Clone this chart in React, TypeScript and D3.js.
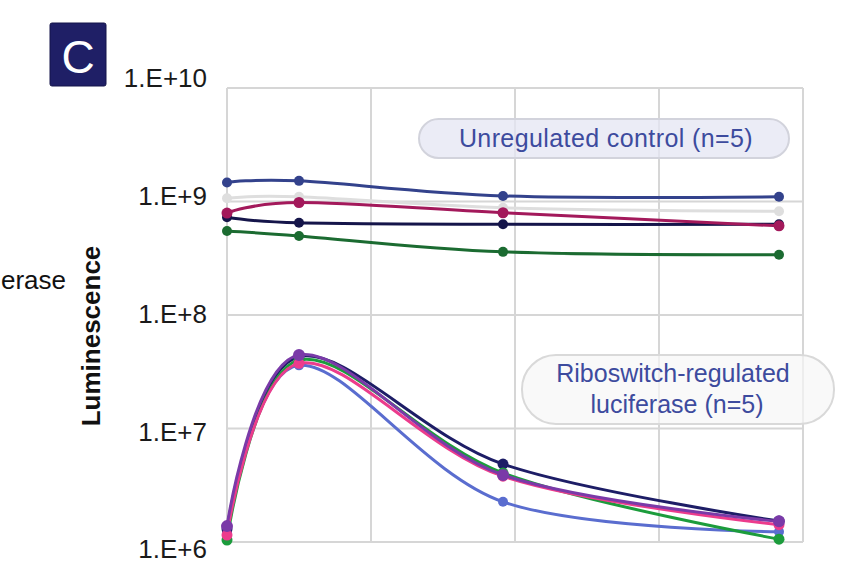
import * as d3 from "d3";

// hours after induction (x positions of the four measurements)
const HOURS = [0, 3, 11.5, 23];

const TICK_VALUES = [1e6, 1e7, 1e8, 1e9, 1e10];
const TICK_LABELS = ["1.E+6", "1.E+7", "1.E+8", "1.E+9", "1.E+10"];
const X_GRID = [0, 6, 12, 18, 24];

// unregulated control constructs
const CTRL_GRAY = [1.07e9, 1.1e9, 8.8e8, 8.2e8];
const CTRL_GREEN = [5.5e8, 4.97e8, 3.6e8, 3.4e8];
const CTRL_NAVY = [7.26e8, 6.5e8, 6.3e8, 6.3e8];
const CTRL_CRIMSON = [7.9e8, 9.8e8, 7.96e8, 6.1e8];
const CTRL_BLUE = [1.47e9, 1.52e9, 1.12e9, 1.1e9];

// riboswitch-regulated luciferase
const RIBO_BLUE = [1.22e6, 3.6e7, 2.26e6, 1.23e6];
const RIBO_NAVY = [1.3e6, 4.3e7, 4.86e6, 1.53e6];
const RIBO_GREEN = [1.04e6, 4.0e7, 4.05e6, 1.06e6];
const RIBO_PINK = [1.15e6, 3.75e7, 3.8e6, 1.42e6];
const RIBO_PURPLE = [1.38e6, 4.45e7, 3.9e6, 1.52e6];

const SERIES = [
  { values: CTRL_GRAY, color: "#dedede", r: 5 },
  { values: CTRL_GREEN, color: "#1b6b31", r: 5 },
  { values: CTRL_NAVY, color: "#15154a", r: 5 },
  { values: CTRL_CRIMSON, color: "#a3195b", r: 5.5 },
  { values: CTRL_BLUE, color: "#33428c", r: 5 },
  { values: RIBO_BLUE, color: "#5a6dcf", r: 5 },
  { values: RIBO_NAVY, color: "#1d1d66", r: 5.5 },
  { values: RIBO_GREEN, color: "#1c9c3c", r: 5.5 },
  { values: RIBO_PINK, color: "#ec3c8c", r: 5.5 },
  { values: RIBO_PURPLE, color: "#7a3aa8", r: 6 },
];

const WIDTH = 857;
const HEIGHT = 568;
const plot = { left: 227, right: 803, top: 88, bottom: 542 };
const FONT = "'Liberation Sans', Arial, sans-serif";

export default function App() {
  const x = d3.scaleLinear().domain([0, 24]).range([plot.left, plot.right]);
  const y = d3.scaleLog().domain([1e6, 1e10]).range([plot.bottom, plot.top]);
  // tick labels sit on a slightly taller ladder than the grid
  const yLabel = d3.scaleLog().domain([1e6, 1e10]).range([549, 78]);

  const line = d3
    .line<number>()
    .x((_, i) => x(HOURS[i]))
    .y((d) => y(d))
    .curve(d3.curveCardinal.tension(0));

  return (
    <svg
      width={WIDTH}
      height={HEIGHT}
      style={{ position: "fixed", left: 0, top: 0, background: "#fff" }}
      fontFamily={FONT}
    >
      {/* tail of a label from the neighbouring panel */}
      <text x={1} y={289} fontSize={26} fill="#111">
        erase
      </text>

      {/* panel letter */}
      <rect x={50} y={23} width={56} height={63} rx={2} fill="#1f1f66" stroke="#15154a" />
      <text x={78} y={73} textAnchor="middle" fontSize={46} fill="#fff">
        C
      </text>

      {/* grid */}
      <g stroke="#d6d6d6" strokeWidth={2}>
        {TICK_VALUES.map((v) => (
          <line key={v} x1={plot.left} x2={plot.right} y1={y(v)} y2={y(v)} />
        ))}
        {X_GRID.map((h) => (
          <line key={h} x1={x(h)} x2={x(h)} y1={plot.top} y2={plot.bottom} />
        ))}
      </g>

      {/* tick labels */}
      {TICK_VALUES.map((v, i) => (
        <text
          key={v}
          x={207}
          y={yLabel(v)}
          dy="0.36em"
          textAnchor="end"
          fontSize={26}
          fill="#1a1a1a"
        >
          {TICK_LABELS[i]}
        </text>
      ))}

      <text
        transform="translate(100,336) rotate(-90)"
        textAnchor="middle"
        fontSize={26}
        fontWeight="bold"
        fill="#111"
      >
        Luminescence
      </text>

      {/* group labels */}
      <rect
        x={419}
        y={119}
        width={370}
        height={39}
        rx={19.5}
        fill="#e4e6f3"
        fillOpacity={0.75}
        stroke="#d2d3dc"
        strokeWidth={2}
      />
      <text x={606} y={147} textAnchor="middle" fontSize={25} fill="#3d4b9e" letterSpacing={0.4}>
        Unregulated control (n=5)
      </text>
      <rect
        x={522}
        y={355}
        width={312}
        height={69}
        rx={34}
        fill="#f6f6f6"
        fillOpacity={0.7}
        stroke="#d9d9d9"
        strokeWidth={2}
      />
      <text x={673} y={382} textAnchor="middle" fontSize={25} fill="#3d4b9e">
        Riboswitch-regulated
      </text>
      <text x={677} y={413} textAnchor="middle" fontSize={25} fill="#3d4b9e">
        luciferase (n=5)
      </text>

      {/* series */}
      {SERIES.map((s, si) => (
        <g key={si}>
          <path d={line(s.values) ?? ""} fill="none" stroke={s.color} strokeWidth={3} />
          {s.values.map((v, i) => (
            <circle key={i} cx={x(HOURS[i])} cy={y(v)} r={s.r} fill={s.color} />
          ))}
        </g>
      ))}
    </svg>
  );
}
